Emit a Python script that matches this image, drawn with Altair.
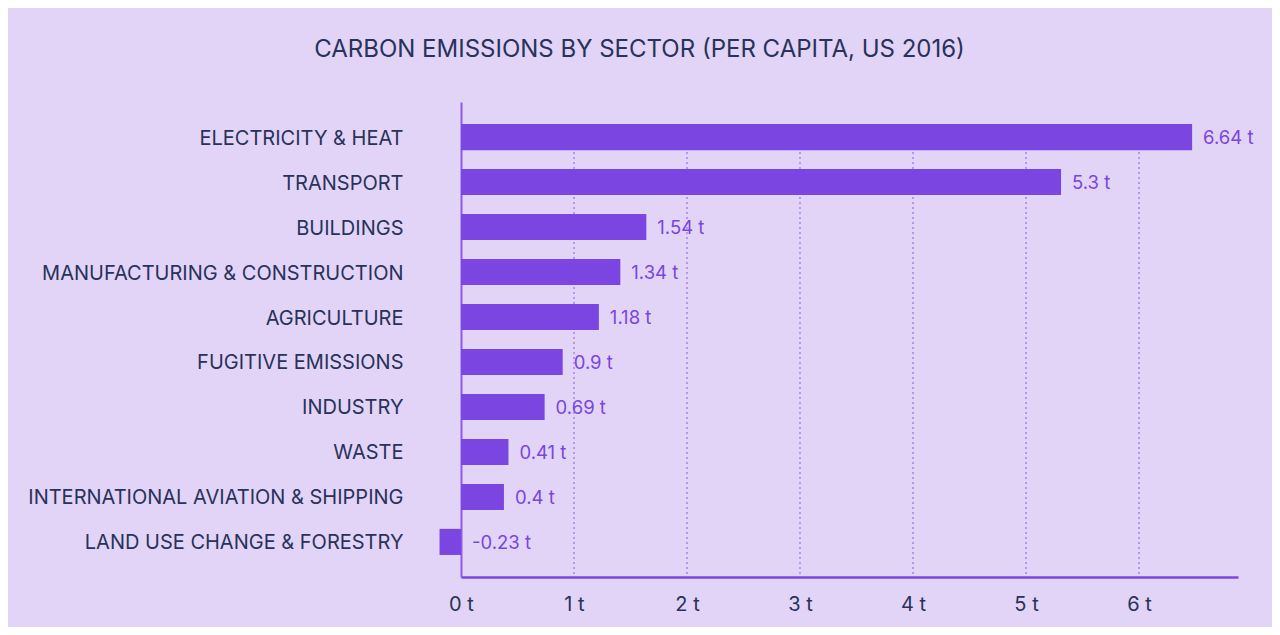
import altair as alt
import pandas as pd

sectors = [
    "ELECTRICITY & HEAT",
    "TRANSPORT",
    "BUILDINGS",
    "MANUFACTURING & CONSTRUCTION",
    "AGRICULTURE",
    "FUGITIVE EMISSIONS",
    "INDUSTRY",
    "WASTE",
    "INTERNATIONAL AVIATION & SHIPPING",
    "LAND USE CHANGE & FORESTRY",
]
# bar lengths as drawn in the picture (t per capita)
bar_values = [6.47, 5.31, 1.64, 1.41, 1.22, 0.90, 0.74, 0.42, 0.38, -0.19]
# value labels as printed in the picture
value_labels = ["6.64 t", "5.3 t", "1.54 t", "1.34 t", "1.18 t", "0.9 t",
                "0.69 t", "0.41 t", "0.4 t", "-0.23 t"]
x_ticks = [0, 1, 2, 3, 4, 5, 6]

NAVY = "#28325a"
PURPLE = "#7a45e0"
BG = "#e2d4f6"
FONT = "Inter"

df = pd.DataFrame({"sector": sectors, "value": bar_values, "label": value_labels})
df["pos"] = df["value"].clip(lower=0)
grid_df = pd.DataFrame({"tick": x_ticks[1:]})

xscale = alt.Scale(domain=[0, 6.876], nice=False)
yscale = alt.Scale(domain=sectors, paddingInner=0.42, paddingOuter=0.49)

base = alt.Chart(df)

grid = alt.Chart(grid_df).mark_rule(
    color="#9a6ced", strokeWidth=1.2, strokeDash=[2, 3]
).encode(
    x=alt.X("tick:Q", scale=xscale),
    y=alt.datum(sectors[0]),
    y2=alt.value(475),
)

bars = base.mark_bar(color=PURPLE, clip=False).encode(
    x=alt.X(
        "value:Q",
        scale=xscale,
        axis=alt.Axis(
            title=None,
            values=x_ticks,
            labelExpr="datum.value + ' t'",
            labelFlush=False,
            domainColor=PURPLE,
            domainWidth=2.5,
            ticks=False,
            grid=False,
            labelPadding=17,
            labelFont=FONT,
            labelFontSize=20,
            labelColor=NAVY,
        ),
    ),
    x2=alt.datum(0),
    y=alt.Y(
        "sector:N",
        scale=yscale,
        sort=sectors,
        axis=alt.Axis(
            title=None,
            domainColor="#8d5aec",
            domainWidth=2,
            ticks=False,
            grid=False,
            labelPadding=58,
            labelOffset=1.5,
            labelFont=FONT,
            labelFontSize=20,
            labelColor=NAVY,
            labelLimit=500,
        ),
    ),
)

texts = base.mark_text(
    align="left", baseline="middle", dx=11, dy=1, font=FONT, fontSize=18.5, color=PURPLE, clip=False
).encode(
    x=alt.X("pos:Q", scale=xscale),
    y=alt.Y("sector:N", scale=yscale, sort=sectors),
    text="label:N",
)

chart = (
    alt.layer(grid, bars, texts)
    .properties(
        width=777,
        height=475,
        background=BG,
        padding={"left": 453, "top": 94, "right": 34, "bottom": 50},
        autosize=alt.AutoSizeParams(type="none"),
        title=alt.TitleParams(
            "CARBON EMISSIONS BY SECTOR (PER CAPITA, US 2016)",
            font=FONT,
            fontSize=24,
            fontWeight="normal",
            color=NAVY,
            anchor="middle",
            dx=-210,
            offset=40,
        ),
    )
    .configure_view(stroke=None)
)

chart.save("out.html", embed_options={"renderer": "svg", "actions": False})
